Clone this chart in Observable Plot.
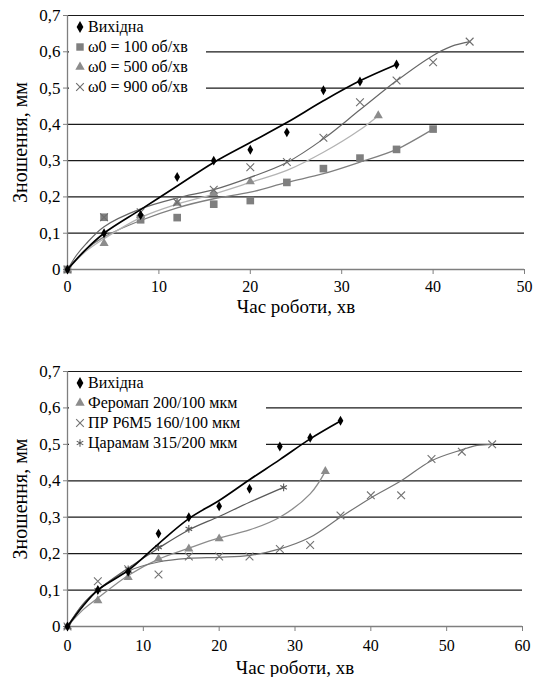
<!DOCTYPE html>
<html><head><meta charset="utf-8">
<script src="https://cdn.jsdelivr.net/npm/d3@7"></script>
<script src="https://cdn.jsdelivr.net/npm/@observablehq/plot@0.6"></script>
<style>
body{margin:0;background:#fff;font-family:'Liberation Serif',serif;}
.wrap{position:relative;width:535px;}
.legend{position:absolute;background:#fff;font-family:'Liberation Serif',serif;font-size:16px;line-height:20px;color:#000;white-space:nowrap;}
.legend div{display:flex;align-items:center;height:20px;}
.legend svg{width:12px;height:12px;margin-right:2px;flex:none;}
</style></head><body>
<div id="c1" class="wrap"></div>
<div id="c2" class="wrap"></div>
<script>
// ---------- shared ticks ----------
const yTicks = [0, 0.1, 0.2, 0.3, 0.4, 0.5, 0.6, 0.7];
const yGrid = [0.1, 0.2, 0.3, 0.4, 0.5, 0.6, 0.7];
const xTicks1 = [0, 10, 20, 30, 40, 50];
const xTicks2 = [0, 10, 20, 30, 40, 50, 60];
const yLabel = "Зношення, мм";
const xLabel = "Час роботи, хв";

// ---------- chart 1 data ----------
const names1 = ["Вихідна", "ω0 = 100 об/хв", "ω0 = 500 об/хв", "ω0 = 900 об/хв"];
const baseT = [0, 4, 8, 12, 16, 20, 24, 28, 32, 36];
const baseW = [0, 0.10, 0.15, 0.255, 0.30, 0.33, 0.378, 0.494, 0.518, 0.565];
const baseFitT = [0, 2, 4, 8, 12, 16, 20, 24, 28, 32, 36];
const baseFitW = [0, 0.055, 0.10, 0.165, 0.23, 0.295, 0.35, 0.405, 0.465, 0.52, 0.565];

const w100T = [0, 4, 8, 12, 16, 20, 24, 28, 32, 36, 40];
const w100W = [0, 0.144, 0.137, 0.143, 0.18, 0.19, 0.24, 0.278, 0.307, 0.331, 0.387];
const w100FitT = [0, 2, 4, 8, 12, 16, 20, 24, 28, 32, 36, 40];
const w100FitW = [0, 0.055, 0.09, 0.135, 0.17, 0.195, 0.213, 0.24, 0.264, 0.296, 0.331, 0.387];

const w500T = [0, 4, 8, 12, 16, 20, 34];
const w500W = [0, 0.072, 0.149, 0.183, 0.21, 0.242, 0.424];
const w500FitT = [0, 2, 4, 8, 12, 16, 20, 24, 28, 32, 34];
const w500FitW = [0, 0.05, 0.085, 0.143, 0.18, 0.208, 0.24, 0.273, 0.323, 0.385, 0.424];

const w900T = [0, 4, 8, 12, 16, 20, 24, 28, 32, 36, 40, 44];
const w900W = [0, 0.144, 0.158, 0.185, 0.22, 0.282, 0.296, 0.363, 0.461, 0.521, 0.571, 0.628];
const w900FitT = [0, 1, 2, 4, 8, 12, 16, 20, 24, 28, 32, 36, 40, 42, 44];
const w900FitW = [0, 0.04, 0.07, 0.118, 0.167, 0.197, 0.22, 0.254, 0.295, 0.36, 0.44, 0.52, 0.59, 0.615, 0.628];

// ---------- chart 2 data ----------
const names2 = ["Вихідна", "Феромап 200/100 мкм", "ПР Р6М5 160/100 мкм", "Царамам 315/200 мкм"];
const base2T = [0, 4, 8, 12, 16, 20, 24, 28, 32, 36];
const base2W = [0, 0.10, 0.15, 0.255, 0.30, 0.33, 0.378, 0.494, 0.518, 0.565];
const base2FitT = [0, 2, 4, 8, 12, 16, 20, 24, 28, 32, 36];
const base2FitW = [0, 0.055, 0.10, 0.154, 0.227, 0.296, 0.346, 0.403, 0.458, 0.515, 0.564];

const ferT = [0, 4, 8, 12, 16, 20, 34];
const ferW = [0, 0.071, 0.135, 0.186, 0.213, 0.241, 0.426];
const ferFitT = [0, 2, 4, 8, 12, 16, 20, 24, 28, 32, 34];
const ferFitW = [0, 0.045, 0.078, 0.14, 0.185, 0.215, 0.243, 0.265, 0.30, 0.364, 0.426];

const prT = [0, 4, 8, 12, 16, 20, 24, 28, 32, 36, 40, 44, 48, 52, 56];
const prW = [0, 0.124, 0.157, 0.143, 0.192, 0.192, 0.192, 0.213, 0.224, 0.305, 0.36, 0.36, 0.46, 0.48, 0.50];
const prFitT = [0, 2, 4, 8, 12, 16, 20, 24, 28, 32, 36, 40, 44, 48, 52, 54, 56];
const prFitW = [0, 0.06, 0.10, 0.152, 0.177, 0.187, 0.19, 0.195, 0.213, 0.245, 0.30, 0.353, 0.40, 0.455, 0.485, 0.497, 0.50];

const tsT = [0, 4, 8, 12, 16, 28.5];
const tsW = [0, 0.10, 0.157, 0.218, 0.268, 0.382];
const tsFitT = [0, 2, 4, 8, 12, 16, 20, 24, 28.5];
const tsFitW = [0, 0.06, 0.10, 0.16, 0.215, 0.265, 0.302, 0.341, 0.382];

// ---------- helpers ----------
const FONT = "Liberation Serif";
const zip = (T, W) => T.map((t, i) => ({t, w: W[i]}));
const fmtY = d => d === 0 ? "0" : d.toFixed(1).replace(".", ",");

const symbolPaths = {
  diamond: d3.symbol(d3.symbolDiamond, 40)(),
  square: d3.symbol(d3.symbolSquare, 55)(),
  triangle: d3.symbol(d3.symbolTriangle, 38)(),
  times: d3.symbol(d3.symbolTimes, 40)(),
  asterisk: d3.symbol(d3.symbolAsterisk, 40)()
};

function series(T, W, FT, FW, o) {
  return [
    Plot.line(zip(FT, FW), {x: "t", y: "w", stroke: o.line, strokeWidth: o.lw, curve: "catmull-rom"}),
    Plot.dot(zip(T, W), {x: "t", y: "w", symbol: o.symbol, r: o.r,
      fill: o.filled ? o.color : "none", stroke: o.filled ? "none" : o.color, strokeWidth: 1.1})
  ];
}

function makeChart(cfg) {
  return Plot.plot({
    width: 535, height: cfg.height,
    marginLeft: 67, marginRight: cfg.mr, marginTop: cfg.mt, marginBottom: cfg.mb,
    style: {fontFamily: FONT, fontSize: "16px", color: "#000", background: "#fff"},
    x: {domain: cfg.xDomain},
    y: {domain: [0, 0.7]},
    marks: [
      Plot.ruleY(yGrid, {stroke: "#1a1a1a", strokeWidth: 1.2}),
      Plot.ruleY([0], {stroke: "#7f7f7f", strokeWidth: 1.3}),
      Plot.ruleX([0], {stroke: "#7f7f7f", strokeWidth: 1.3}),
      Plot.axisY({ticks: yTicks, tickFormat: fmtY, tickSize: 4, tickPadding: 3, stroke: "#7f7f7f", fontSize: 17, fontFamily: FONT, label: null}),
      Plot.axisX({ticks: cfg.xTicks, tickFormat: d => String(d), tickSize: 5, tickPadding: cfg.xTickPad, stroke: "#7f7f7f", fontSize: 16, fontFamily: FONT, label: null}),
      Plot.text([yLabel], {frameAnchor: "left", dx: -47, rotate: -90, textAnchor: "middle", fontSize: 20, fontFamily: FONT}),
      Plot.text([xLabel], {frameAnchor: "bottom", dy: cfg.xLabelDy, textAnchor: "middle", lineAnchor: "middle", fontSize: 19, fontFamily: FONT}),
      ...cfg.marks
    ]
  });
}

function legend(names, syms, colors, left, top, width) {
  const div = document.createElement("div");
  div.className = "legend";
  div.style.left = left + "px";
  div.style.top = top + "px";
  div.style.width = width + "px";
  div.style.paddingLeft = "5px";
  names.forEach((n, i) => {
    const row = document.createElement("div");
    const s = syms[i];
    const filled = !(s === "times" || s === "asterisk");
    row.innerHTML = `<svg viewBox="-6 -6 12 12"><path d="${symbolPaths[s]}" fill="${filled ? colors[i] : "none"}" stroke="${filled ? "none" : colors[i]}" stroke-width="1.1"/></svg><span>${n}</span>`;
    div.appendChild(row);
  });
  return div;
}

// ---------- chart 1 ----------
const c1 = makeChart({
  height: 320, mt: 15, mb: 51, mr: 11, xDomain: [0, 50], xTicks: xTicks1, xTickPad: 6, xLabelDy: 37,
  marks: [
    ...series(w100T, w100W, w100FitT, w100FitW, {line: "#7f7f7f", lw: 1.3, symbol: "square", r: 4.3, filled: true, color: "#7f7f7f"}),
    ...series(w500T, w500W, w500FitT, w500FitW, {line: "#b3b3b3", lw: 1.3, symbol: "triangle", r: 3.4, filled: true, color: "#8c8c8c"}),
    ...series(w900T, w900W, w900FitT, w900FitW, {line: "#666666", lw: 1.2, symbol: "times", r: 3.6, filled: false, color: "#6e6e6e"}),
    ...series(baseT, baseW, baseFitT, baseFitW, {line: "#000", lw: 1.7, symbol: "diamond", r: 3, filled: true, color: "#000"})
  ]
});
document.getElementById("c1").appendChild(c1);
document.getElementById("c1").appendChild(
  legend(names1, ["diamond", "square", "triangle", "times"], ["#000", "#7f7f7f", "#8c8c8c", "#6e6e6e"], 69, 17, 132));

// ---------- chart 2 ----------
const c2 = makeChart({
  height: 357, mt: 51, mb: 51, mr: 13, xDomain: [0, 60], xTicks: xTicks2, xTickPad: 8, xLabelDy: 41,
  marks: [
    ...series(ferT, ferW, ferFitT, ferFitW, {line: "#8c8c8c", lw: 1.3, symbol: "triangle", r: 3.4, filled: true, color: "#8c8c8c"}),
    ...series(prT, prW, prFitT, prFitW, {line: "#737373", lw: 1.2, symbol: "times", r: 3.6, filled: false, color: "#737373"}),
    ...series(tsT, tsW, tsFitT, tsFitW, {line: "#595959", lw: 1.3, symbol: "asterisk", r: 3.6, filled: false, color: "#595959"}),
    ...series(base2T, base2W, base2FitT, base2FitW, {line: "#000", lw: 1.7, symbol: "diamond", r: 3, filled: true, color: "#000"})
  ]
});
document.getElementById("c2").appendChild(c2);
document.getElementById("c2").appendChild(
  legend(names2, ["diamond", "triangle", "times", "asterisk"], ["#000", "#8c8c8c", "#737373", "#595959"], 69, 53, 192));
</script>
</body></html>
